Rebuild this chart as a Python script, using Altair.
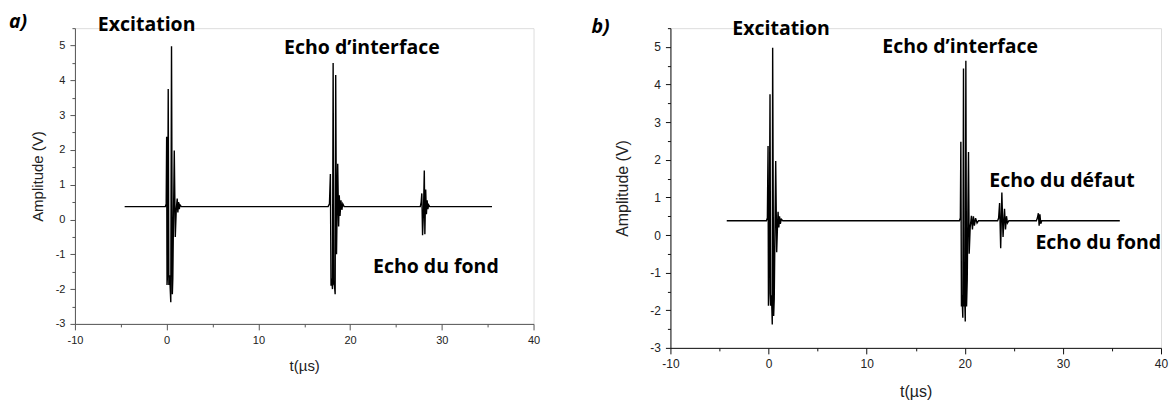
import altair as alt
import pandas as pd

# ---------------- data ----------------
# Panel a)
a_t = [-4.58,
       -0.15, -0.05, 0.00, 0.04, 0.10, 0.17, 0.24, 0.31, 0.37, 0.45, 0.53, 0.62, 0.67, 0.83, 0.94, 1.05, 1.15, 1.22, 1.30, 1.38, 1.46, 1.60,
       17.60, 17.75, 17.85, 17.92, 18.00, 18.08, 18.15, 18.22, 18.30, 18.37, 18.43, 18.52, 18.65, 18.75, 18.82, 18.90, 19.00, 19.10, 19.20, 19.35,
       27.65, 27.75, 27.82, 27.90, 28.00, 28.09, 28.15, 28.24, 28.32, 28.40, 28.48, 28.56, 28.68,
       35.47]
a_v = [0.37,
       0.37, 0.45, 2.38, -1.88, -1.55, 3.75, -1.88, -1.60, -1.88, -2.38, 4.98, -2.15, -1.70, 1.98, -0.50, 0.30, 0.60, 0.20, 0.50, 0.30, 0.42, 0.37,
       0.37, 0.45, 1.31, -1.90, -1.70, -2.00, 4.50, -1.85, -1.90, -2.15, 4.15, -1.00, 1.60, -0.20, 0.70, 0.10, 0.55, 0.28, 0.45, 0.37,
       0.37, 0.50, 0.75, -0.45, 0.20, 1.41, -0.42, 0.86, 0.15, 0.55, 0.30, 0.42, 0.37,
       0.37]

# Panel b)
b_t = [-4.26,
       -0.22, -0.12, -0.05, -0.01, 0.05, 0.15, 0.21, 0.27, 0.33, 0.38, 0.42, 0.52, 0.58, 0.73, 0.83, 0.92, 0.97, 1.05, 1.12, 1.20, 1.30, 1.45,
       19.45, 19.55, 19.60, 19.66, 19.72, 19.80, 19.87, 19.93, 20.00, 20.05, 20.11, 20.18, 20.25, 20.38, 20.45, 20.55, 20.68, 20.78, 20.88, 20.98, 21.10, 21.25, 21.40,
       23.35, 23.45, 23.55, 23.66, 23.78, 23.90, 24.05, 24.15, 24.25, 24.35, 24.50,
       27.30, 27.40, 27.50, 27.58, 27.66, 27.74, 27.85,
       35.80]
b_v = [0.38,
       0.38, 0.45, 2.37, -1.88, -1.55, 3.74, -1.88, -1.60, -1.88, -2.38, 4.98, -2.15, -1.70, 1.97, -0.46, 0.30, 0.62, 0.20, 0.50, 0.30, 0.42, 0.38,
       0.38, 0.45, 2.48, -1.90, -1.60, -2.20, 4.43, -1.90, -1.75, -2.30, 4.63, -1.90, -1.20, 2.21, -0.50, 0.20, 0.51, 0.15, 0.50, 0.25, 0.45, 0.32, 0.38,
       0.38, 0.45, 0.85, -0.35, 1.13, -0.05, 0.70, 0.15, 0.50, 0.32, 0.38,
       0.38, 0.45, 0.58, 0.25, 0.55, 0.30, 0.38,
       0.38]

# annotations (data coordinates)
a_labels = ["Excitation", "Echo d\u2019interface", "Echo du fond"]
a_lab_t = [-7.5, 12.8, 22.5]
a_lab_v = [5.43, 4.77, -1.54]

b_labels = ["Excitation", "Echo d\u2019interface", "Echo du d\u00e9faut", "Echo du fond"]
b_lab_t = [-3.69, 11.6, 22.5, 27.2]
b_lab_v = [5.31, 4.85, 1.29, -0.37]

x_ticks = [-10, -5, 0, 5, 10, 15, 20, 25, 30, 35, 40]
y_ticks = [-3, -2.5, -2, -1.5, -1, -0.5, 0, 0.5, 1, 1.5, 2, 2.5, 3, 3.5, 4, 4.5, 5, 5.5]

LABEL_FONT = "Open Sans"
TICK_FONT = "Liberation Sans"


def panel(t, v, labels, lab_t, lab_v, tag, tag_dx, tag_dy, w, h,
          tick_fs, title_fs, axis_color, ann_fs, x_title_pad, y_title_pad):
    df = pd.DataFrame({"t": t, "v": v})
    ann = pd.DataFrame({"label": labels, "t": lab_t, "v": lab_v})
    xscale = alt.Scale(domain=[-10, 40], nice=False, zero=False)
    yscale = alt.Scale(domain=[-3, 5.5], nice=False, zero=False)
    xaxis = alt.Axis(values=x_ticks, grid=False, title="t(\u00b5s)",
                     labelExpr="datum.value % 10 === 0 ? toString(datum.value) : ''",
                     tickSize={"expr": "datum.value % 10 === 0 ? 6 : 3"},
                     labelPadding=5, labelFont=TICK_FONT, labelFontSize=tick_fs,
                     labelColor="#222", titleFont=TICK_FONT, titleFontSize=title_fs,
                     titleFontWeight="normal", titleColor="#222", titlePadding=x_title_pad,
                     domainColor=axis_color, tickColor=axis_color, labelFlush=False,
                     labelOverlap=False)
    yaxis = alt.Axis(values=y_ticks, grid=False, title="Amplitude (V)",
                     labelExpr="datum.value % 1 === 0 ? toString(datum.value) : ''",
                     tickSize={"expr": "datum.value % 1 === 0 ? 5 : 3"},
                     labelPadding=5, labelFont=TICK_FONT, labelFontSize=tick_fs,
                     labelColor="#222", titleFont=TICK_FONT, titleFontSize=title_fs,
                     titleFontWeight="normal", titleColor="#222", titlePadding=y_title_pad,
                     domainColor=axis_color, tickColor=axis_color, labelFlush=False,
                     labelOverlap=False)
    line = alt.Chart(df).mark_line(color="black", strokeWidth=1.4).encode(
        x=alt.X("t:Q", scale=xscale, axis=xaxis),
        y=alt.Y("v:Q", scale=yscale, axis=yaxis),
    )
    texts = alt.Chart(ann).mark_text(
        align="left", baseline="alphabetic", font=LABEL_FONT, fontWeight="bold",
        fontSize=ann_fs, color="black"
    ).encode(x=alt.X("t:Q", scale=xscale, axis=xaxis),
             y=alt.Y("v:Q", scale=yscale, axis=yaxis), text="label:N")
    tag_mark = alt.Chart(pd.DataFrame({"tag": [tag]})).mark_text(
        align="left", baseline="alphabetic", font=LABEL_FONT, fontWeight="bold",
        fontStyle="italic", fontSize=ann_fs, color="black"
    ).encode(x=alt.value(tag_dx), y=alt.value(tag_dy), text="tag:N")
    return alt.layer(line, texts, tag_mark).properties(width=w, height=h)


left = panel(a_t, a_v, a_labels, a_lab_t, a_lab_v, "a)", -66, 0, 459, 296,
             11, 15, "#555", 19.5, 13, 10)
right = panel(b_t, b_v, b_labels, b_lab_t, b_lab_v, "b)", -79, 5, 491, 320,
              12, 16, "#111", 19.5, 14, 19)

chart = alt.hconcat(left, right, spacing=50).properties(
    padding={"left": 8, "top": 11, "right": 0, "bottom": 0}
).configure_view(strokeWidth=0).configure(background="white")

chart.save("out.html", embed_options={"renderer": "svg", "actions": False})
